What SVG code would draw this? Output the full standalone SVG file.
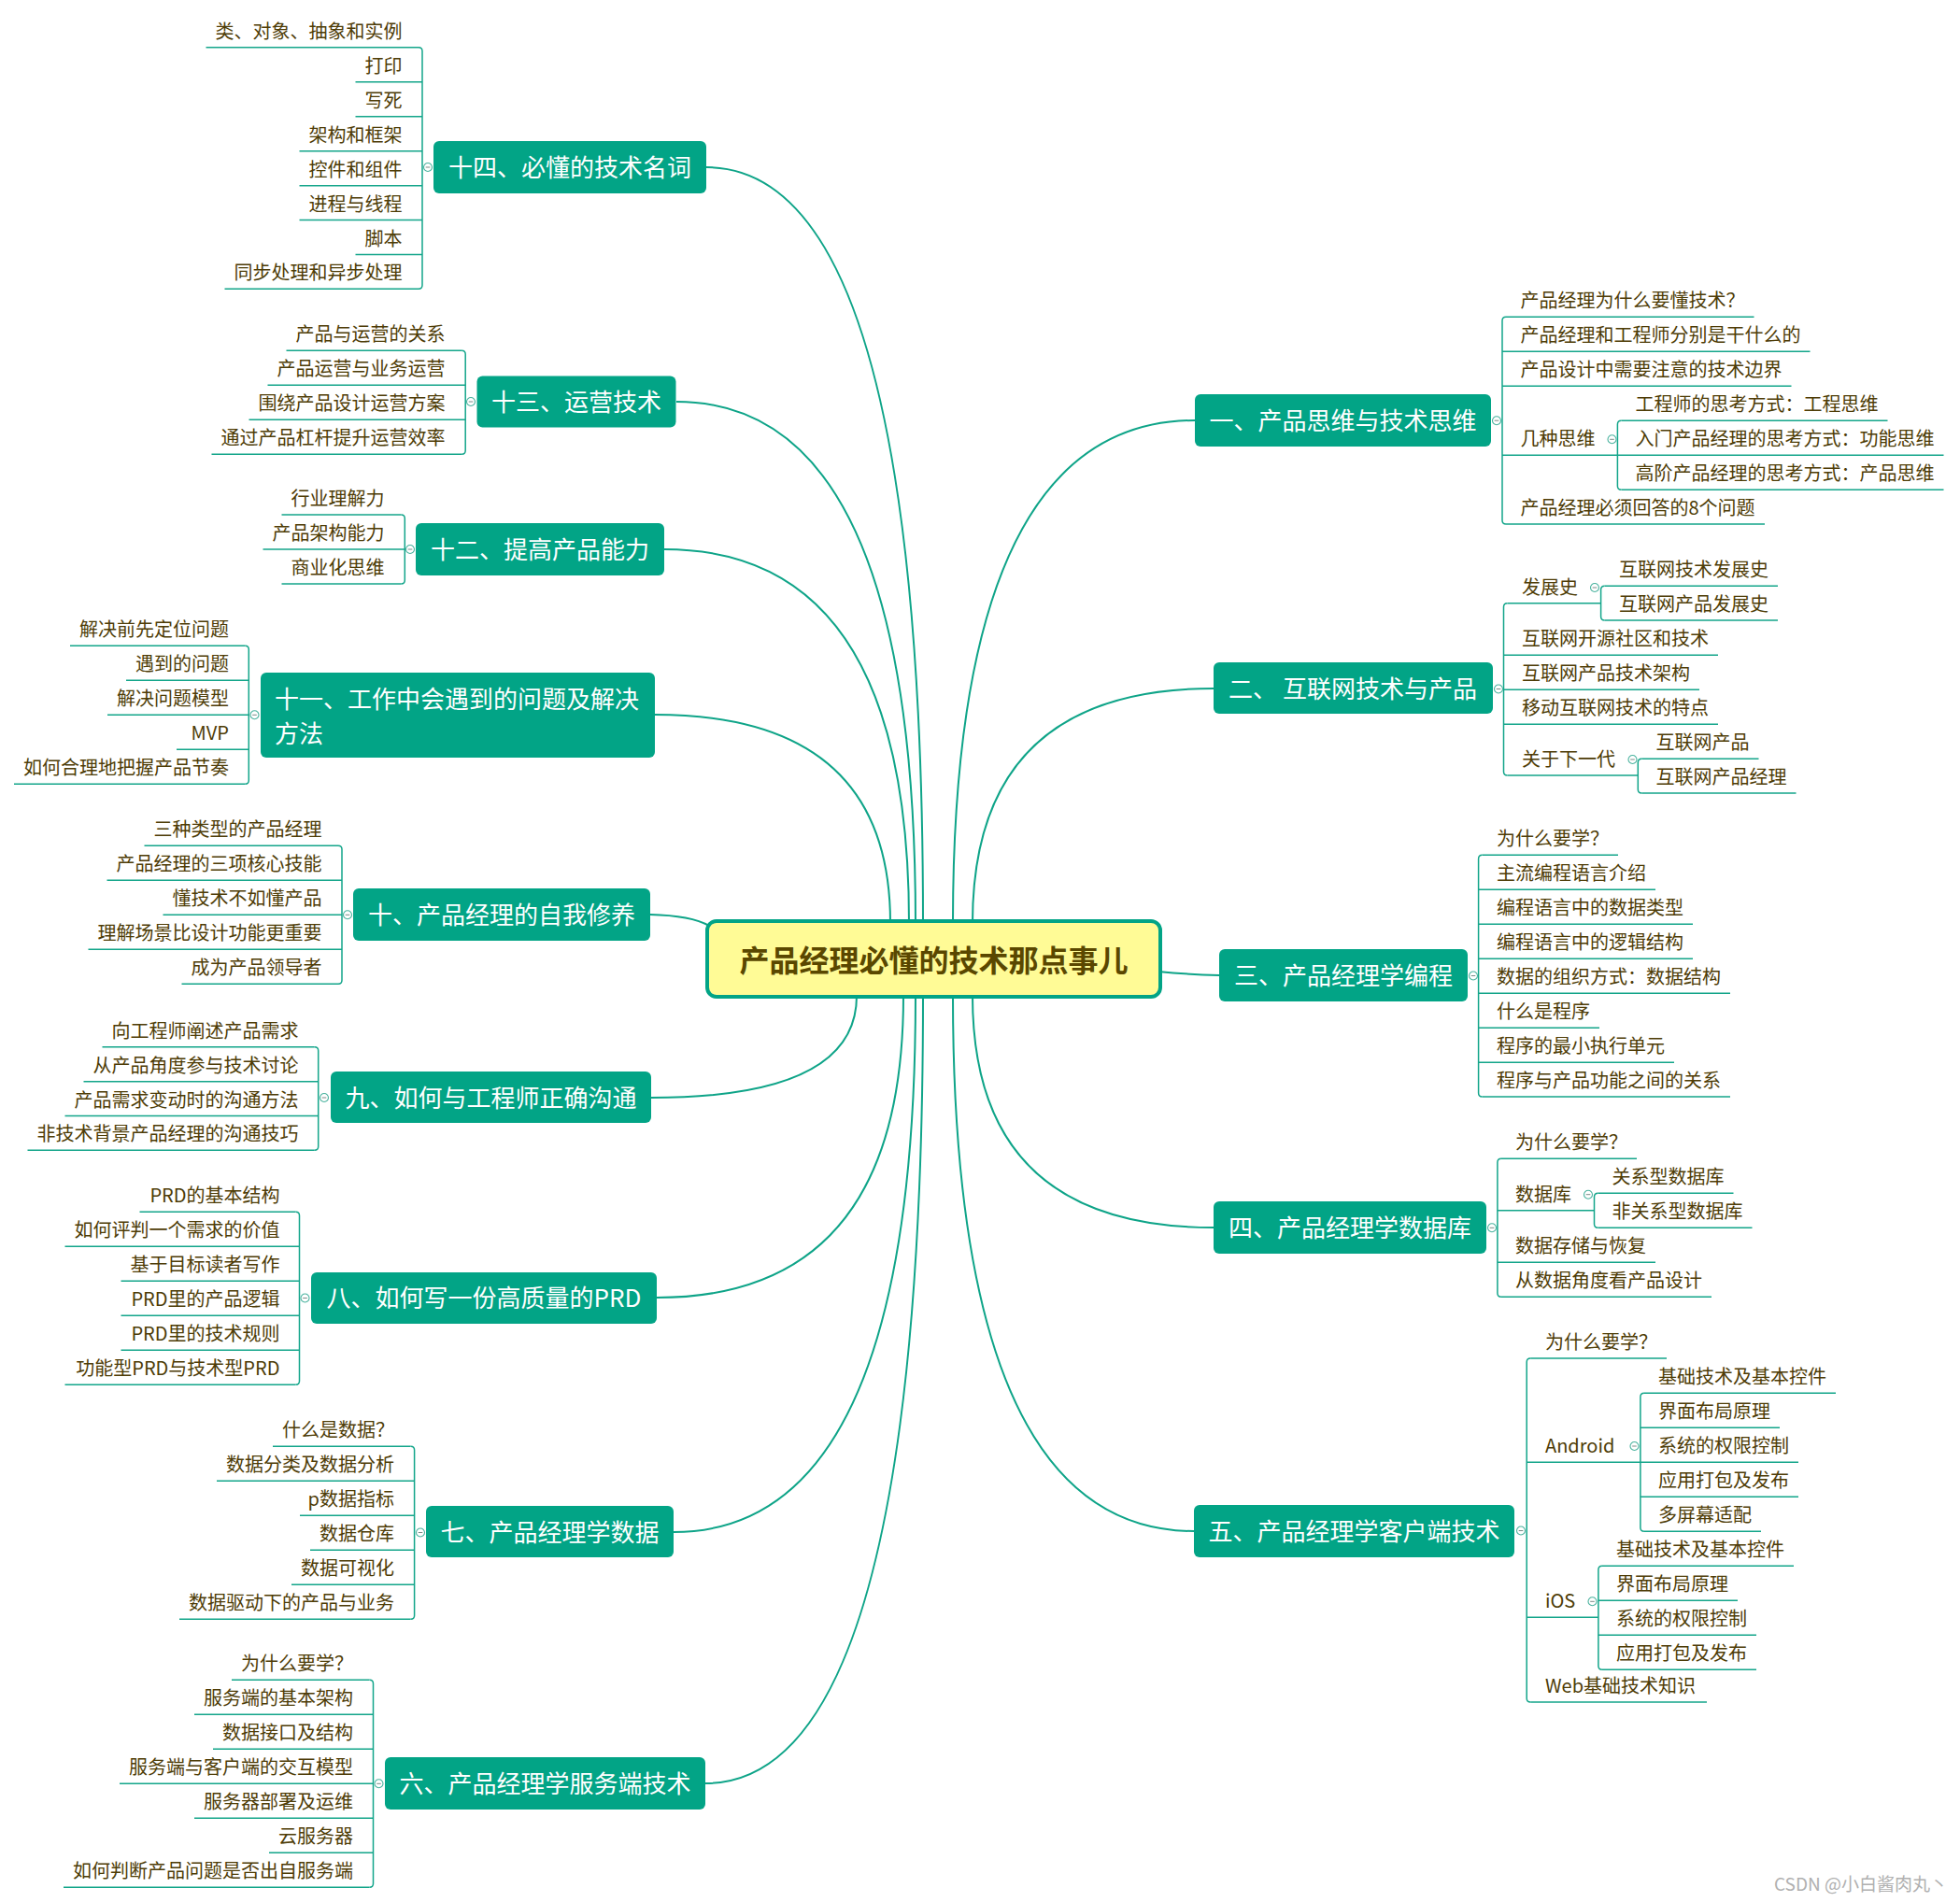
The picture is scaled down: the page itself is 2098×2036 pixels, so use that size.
<svg xmlns="http://www.w3.org/2000/svg" xmlns:xlink="http://www.w3.org/1999/xlink" width="2098" height="2036" viewBox="0 0 2098 2036">
<style>
text{font-family:'Noto Sans CJK SC','Noto Sans CJK JP',sans-serif}
.lf path{fill:none;stroke:#13a58a;stroke-width:1.5}
.lf text{font-size:20px;fill:#4e3c06}
.L text{text-anchor:end}
.tp rect{fill:#02a486}
.tp text{font-size:26px;fill:#ffffff;text-anchor:middle}
.br{fill:none;stroke:#13a58a;stroke-width:1.5}
.cn{fill:none;stroke:#0ea488;stroke-width:2}
.col circle{fill:#ffffff;stroke:#4bb39f;stroke-width:1.1}
.col path{stroke:#7a8a86;stroke-width:1}
</style>
<defs>
<g id="col" class="col"><circle r="4.5"/><path d="M-2.3 0h4.6"/></g>
</defs>
<rect width="2098" height="2036" fill="#ffffff"/>

<g id="connectors">
<path class="cn" d="M756 179Q988 179 988 988"/>
<path class="cn" d="M724 430Q980 430 980 988"/>
<path class="cn" d="M711 588Q973 588 973 988"/>
<path class="cn" d="M701 765Q953 765 953 988"/>
<path class="cn" d="M696 979Q740 980 759 991"/>
<path class="cn" d="M697 1175Q917 1175 917 1066"/>
<path class="cn" d="M703 1389Q967 1389 967 1066"/>
<path class="cn" d="M721 1640Q980 1640 980 1066"/>
<path class="cn" d="M755 1909Q988 1909 988 1066"/>
<path class="cn" d="M1279 450Q1020 450 1020 988"/>
<path class="cn" d="M1299 737Q1041 737 1041 988"/>
<path class="cn" d="M1305 1044Q1270 1043 1240 1040"/>
<path class="cn" d="M1299 1314Q1041 1314 1041 1066"/>
<path class="cn" d="M1278 1639Q1020 1639 1020 1066"/>
<path class="br" d="M448 50.7Q452 50.7 452 54.7V305.3Q452 309.3 448 309.3"/>
<path class="br" d="M494.2 375.3Q498.2 375.3 498.2 379.3V482.3Q498.2 486.3 494.2 486.3"/>
<path class="br" d="M429.3 551Q433.3 551 433.3 555V621Q433.3 625 429.3 625"/>
<path class="br" d="M262.3 691.3Q266.3 691.3 266.3 695.3V835.3Q266.3 839.3 262.3 839.3"/>
<path class="br" d="M362 905.3Q366 905.3 366 909.3V1049.3Q366 1053.3 362 1053.3"/>
<path class="br" d="M336.7 1120.7Q340.7 1120.7 340.7 1124.7V1227.3Q340.7 1231.3 336.7 1231.3"/>
<path class="br" d="M316.5 1297.3Q320.5 1297.3 320.5 1301.3V1478.3Q320.5 1482.3 316.5 1482.3"/>
<path class="br" d="M439.6 1548.3Q443.6 1548.3 443.6 1552.3V1729.3Q443.6 1733.3 439.6 1733.3"/>
<path class="br" d="M395.5 1798.3Q399.5 1798.3 399.5 1802.3V2016.3Q399.5 2020.3 395.5 2020.3"/>
<path class="br" d="M1612 339.3Q1608 339.3 1608 343.3V557Q1608 561 1612 561"/>
<path class="br" d="M1735.4 450.3Q1731.4 450.3 1731.4 454.3V520.3Q1731.4 524.3 1735.4 524.3"/>
<path class="br" d="M1613.5 645.7Q1609.5 645.7 1609.5 649.7V826Q1609.5 830 1613.5 830"/>
<path class="br" d="M1717.6 627.3Q1713.6 627.3 1713.6 631.3V660Q1713.6 664 1717.6 664"/>
<path class="br" d="M1757.3 812.3Q1753.3 812.3 1753.3 816.3V845Q1753.3 849 1757.3 849"/>
<path class="br" d="M1586.6 915.3Q1582.6 915.3 1582.6 919.3V1170Q1582.6 1174 1586.6 1174"/>
<path class="br" d="M1606.9 1240.3Q1602.9 1240.3 1602.9 1244.3V1384.3Q1602.9 1388.3 1606.9 1388.3"/>
<path class="br" d="M1710.5 1277.3Q1706.5 1277.3 1706.5 1281.3V1310.3Q1706.5 1314.3 1710.5 1314.3"/>
<path class="br" d="M1638.2 1454Q1634.2 1454 1634.2 1458V1818Q1634.2 1822 1638.2 1822"/>
<path class="br" d="M1759.9 1491.3Q1755.9 1491.3 1755.9 1495.3V1635.3Q1755.9 1639.3 1759.9 1639.3"/>
<path class="br" d="M1714.9 1676.3Q1710.9 1676.3 1710.9 1680.3V1783.3Q1710.9 1787.3 1714.9 1787.3"/>
</g>

<g id="center">
<rect x="757" y="986" width="485" height="81" rx="10" fill="#fffb96" stroke="#02a486" stroke-width="4"/>
<text x="999.5" y="1039.5" font-size="32" font-weight="bold" fill="#5a4700" text-anchor="middle">产品经理必懂的技术那点事儿</text>
</g>

<!-- Branch 14 -->
<g id="n14" class="tp"><rect x="464" y="151" width="292" height="56" rx="6"/><text x="610" y="189">十四、必懂的技术名词</text><use xlink:href="#col" x="458" y="179"/></g>
<g class="lf L">
<g id="n14-1"><path d="M220.5 50.7H448"/><text x="430.5" y="40.7">类、对象、抽象和实例</text></g>
<g id="n14-2"><path d="M380.5 87.7H452"/><text x="430.5" y="77.7">打印</text></g>
<g id="n14-3"><path d="M380.5 124.7H452"/><text x="430.5" y="114.7">写死</text></g>
<g id="n14-4"><path d="M320.5 161.7H452"/><text x="430.5" y="151.7">架构和框架</text></g>
<g id="n14-5"><path d="M320.5 198.7H452"/><text x="430.5" y="188.7">控件和组件</text></g>
<g id="n14-6"><path d="M320.5 235.5H452"/><text x="430.5" y="225.5">进程与线程</text></g>
<g id="n14-7"><path d="M380.5 272.5H452"/><text x="430.5" y="262.5">脚本</text></g>
<g id="n14-8"><path d="M240.5 309.3H448"/><text x="430.5" y="299.3">同步处理和异步处理</text></g>
</g>

<!-- Branch 13 -->
<g id="n13" class="tp"><rect x="510.5" y="402.5" width="213" height="55" rx="6"/><text x="617" y="440">十三、运营技术</text><use xlink:href="#col" x="504" y="430"/></g>
<g class="lf L">
<g id="n13-1"><path d="M306.5 375.3H494.2"/><text x="476.5" y="365.3">产品与运营的关系</text></g>
<g id="n13-2"><path d="M286.5 412.3H498.2"/><text x="476.5" y="402.3">产品运营与业务运营</text></g>
<g id="n13-3"><path d="M266.5 449.3H498.2"/><text x="476.5" y="439.3">围绕产品设计运营方案</text></g>
<g id="n13-4"><path d="M226.5 486.3H494.2"/><text x="476.5" y="476.3">通过产品杠杆提升运营效率</text></g>
</g>

<!-- Branch 12 -->
<g id="n12" class="tp"><rect x="445" y="560" width="266" height="56" rx="6"/><text x="578" y="598">十二、提高产品能力</text><use xlink:href="#col" x="439" y="588"/></g>
<g class="lf L">
<g id="n12-1"><path d="M301.5 551H429.3"/><text x="411.5" y="541">行业理解力</text></g>
<g id="n12-2"><path d="M281.5 588H433.3"/><text x="411.5" y="578">产品架构能力</text></g>
<g id="n12-3"><path d="M301.5 625H429.3"/><text x="411.5" y="615">商业化思维</text></g>
</g>

<!-- Branch 11 -->
<g id="n11" class="tp"><rect x="279" y="720" width="422" height="91" rx="6"/><text x="294" y="758" style="text-anchor:start">十一、工作中会遇到的问题及解决</text><text x="294" y="795" style="text-anchor:start">方法</text><use xlink:href="#col" x="272.5" y="765.3"/></g>
<g class="lf L">
<g id="n11-1"><path d="M75 691.3H262.3"/><text x="245" y="681.3">解决前先定位问题</text></g>
<g id="n11-2"><path d="M135 728.3H266.3"/><text x="245" y="718.3">遇到的问题</text></g>
<g id="n11-3"><path d="M115 765.3H266.3"/><text x="245" y="755.3">解决问题模型</text></g>
<g id="n11-4"><path d="M189 802.3H266.3"/><text x="245" y="792.3">MVP</text></g>
<g id="n11-5"><path d="M15 839.3H262.3"/><text x="245" y="829.3">如何合理地把握产品节奏</text></g>
</g>

<!-- Branch 10 -->
<g id="n10" class="tp"><rect x="378" y="951" width="318" height="56" rx="6"/><text x="537" y="989">十、产品经理的自我修养</text><use xlink:href="#col" x="372" y="979.3"/></g>
<g class="lf L">
<g id="n10-1"><path d="M154.5 905.3H362"/><text x="344.5" y="895.3">三种类型的产品经理</text></g>
<g id="n10-2"><path d="M114.5 942.3H366"/><text x="344.5" y="932.3">产品经理的三项核心技能</text></g>
<g id="n10-3"><path d="M174.5 979.3H366"/><text x="344.5" y="969.3">懂技术不如懂产品</text></g>
<g id="n10-4"><path d="M94.5 1016.3H366"/><text x="344.5" y="1006.3">理解场景比设计功能更重要</text></g>
<g id="n10-5"><path d="M194.5 1053.3H362"/><text x="344.5" y="1043.3">成为产品领导者</text></g>
</g>

<!-- Branch 9 -->
<g id="n9" class="tp"><rect x="354" y="1147" width="343" height="55" rx="6"/><text x="525.5" y="1185">九、如何与工程师正确沟通</text><use xlink:href="#col" x="347" y="1175"/></g>
<g class="lf L">
<g id="n9-1"><path d="M109.5 1120.7H336.7"/><text x="319.5" y="1110.7">向工程师阐述产品需求</text></g>
<g id="n9-2"><path d="M89.5 1157.7H340.7"/><text x="319.5" y="1147.7">从产品角度参与技术讨论</text></g>
<g id="n9-3"><path d="M69.5 1194.5H340.7"/><text x="319.5" y="1184.5">产品需求变动时的沟通方法</text></g>
<g id="n9-4"><path d="M29.5 1231.3H336.7"/><text x="319.5" y="1221.3">非技术背景产品经理的沟通技巧</text></g>
</g>

<!-- Branch 8 -->
<g id="n8" class="tp"><rect x="333" y="1362" width="370" height="55" rx="6"/><text x="518" y="1399">八、如何写一份高质量的PRD</text><use xlink:href="#col" x="326.5" y="1389.5"/></g>
<g class="lf L">
<g id="n8-1"><path d="M149.5 1297.3H316.5"/><text x="299.5" y="1287.3">PRD的基本结构</text></g>
<g id="n8-2"><path d="M69.5 1334.3H320.5"/><text x="299.5" y="1324.3">如何评判一个需求的价值</text></g>
<g id="n8-3"><path d="M129.5 1371.3H320.5"/><text x="299.5" y="1361.3">基于目标读者写作</text></g>
<g id="n8-4"><path d="M129.5 1408.3H320.5"/><text x="299.5" y="1398.3">PRD里的产品逻辑</text></g>
<g id="n8-5"><path d="M129.5 1445.3H320.5"/><text x="299.5" y="1435.3">PRD里的技术规则</text></g>
<g id="n8-6"><path d="M69.5 1482.3H316.5"/><text x="299.5" y="1472.3">功能型PRD与技术型PRD</text></g>
</g>

<!-- Branch 7 -->
<g id="n7" class="tp"><rect x="456" y="1612" width="265" height="55" rx="6"/><text x="588.5" y="1650">七、产品经理学数据</text><use xlink:href="#col" x="450" y="1640.5"/></g>
<g class="lf L">
<g id="n7-1"><path d="M292 1548.3H439.6"/><text x="422" y="1538.3">什么是数据？</text></g>
<g id="n7-2"><path d="M232 1585.3H443.6"/><text x="422" y="1575.3">数据分类及数据分析</text></g>
<g id="n7-3"><path d="M321 1622.3H443.6"/><text x="422" y="1612.3">p数据指标</text></g>
<g id="n7-4"><path d="M332 1659.3H443.6"/><text x="422" y="1649.3">数据仓库</text></g>
<g id="n7-5"><path d="M312 1696.3H443.6"/><text x="422" y="1686.3">数据可视化</text></g>
<g id="n7-6"><path d="M192 1733.3H439.6"/><text x="422" y="1723.3">数据驱动下的产品与业务</text></g>
</g>

<!-- Branch 6 -->
<g id="n6" class="tp"><rect x="412" y="1881" width="343" height="56" rx="6"/><text x="583.5" y="1919">六、产品经理学服务端技术</text><use xlink:href="#col" x="405.5" y="1909.3"/></g>
<g class="lf L">
<g id="n6-1"><path d="M248 1798.3H395.5"/><text x="378" y="1788.3">为什么要学？</text></g>
<g id="n6-2"><path d="M208 1835.3H399.5"/><text x="378" y="1825.3">服务端的基本架构</text></g>
<g id="n6-3"><path d="M228 1872.3H399.5"/><text x="378" y="1862.3">数据接口及结构</text></g>
<g id="n6-4"><path d="M128 1909.3H399.5"/><text x="378" y="1899.3">服务端与客户端的交互模型</text></g>
<g id="n6-5"><path d="M208 1946.3H399.5"/><text x="378" y="1936.3">服务器部署及运维</text></g>
<g id="n6-6"><path d="M288 1983.3H399.5"/><text x="378" y="1973.3">云服务器</text></g>
<g id="n6-7"><path d="M68 2020.3H395.5"/><text x="378" y="2010.3">如何判断产品问题是否出自服务端</text></g>
</g>

<!-- Branch 1 -->
<g id="n1" class="tp"><rect x="1279" y="422" width="317" height="56" rx="6"/><text x="1437.5" y="460">一、产品思维与技术思维</text><use xlink:href="#col" x="1602" y="450.2"/></g>
<g class="lf">
<g id="n1-1"><path d="M1612 339.3H1877.5"/><text x="1627.5" y="329.3">产品经理为什么要懂技术？</text></g>
<g id="n1-2"><path d="M1608 376.3H1937.5"/><text x="1627.5" y="366.3">产品经理和工程师分别是干什么的</text></g>
<g id="n1-3"><path d="M1608 413.3H1917.5"/><text x="1627.5" y="403.3">产品设计中需要注意的技术边界</text></g>
<g id="n1-4"><path d="M1608 487.3H1731.4"/><text x="1627.5" y="477.3">几种思维</text><use xlink:href="#col" x="1725.5" y="470.3"/></g>
<g id="n1-4-1"><path d="M1735.4 450.3H2020.5"/><text x="1750.5" y="440.3">工程师的思考方式：工程思维</text></g>
<g id="n1-4-2"><path d="M1731.4 487.3H2080.5"/><text x="1750.5" y="477.3">入门产品经理的思考方式：功能思维</text></g>
<g id="n1-4-3"><path d="M1735.4 524.3H2080.5"/><text x="1750.5" y="514.3">高阶产品经理的思考方式：产品思维</text></g>
<g id="n1-5"><path d="M1612 561H1889"/><text x="1627.5" y="551">产品经理必须回答的8个问题</text></g>
</g>

<!-- Branch 2 -->
<g id="n2" class="tp"><rect x="1299" y="709" width="299" height="55" rx="6"/><text x="1448" y="747">二、 互联网技术与产品</text><use xlink:href="#col" x="1604" y="737.5"/></g>
<g class="lf">
<g id="n2-1"><path d="M1613.5 645.7H1713.6"/><text x="1629" y="635.7">发展史</text><use xlink:href="#col" x="1707" y="629"/></g>
<g id="n2-1-1"><path d="M1717.6 627.3H1903"/><text x="1733" y="617.3">互联网技术发展史</text></g>
<g id="n2-1-2"><path d="M1717.6 664H1903"/><text x="1733" y="654">互联网产品发展史</text></g>
<g id="n2-2"><path d="M1609.5 701.3H1839"/><text x="1629" y="691.3">互联网开源社区和技术</text></g>
<g id="n2-3"><path d="M1609.5 738.3H1819"/><text x="1629" y="728.3">互联网产品技术架构</text></g>
<g id="n2-4"><path d="M1609.5 775.3H1839"/><text x="1629" y="765.3">移动互联网技术的特点</text></g>
<g id="n2-5"><path d="M1613.5 830H1753.3"/><text x="1629" y="820">关于下一代</text><use xlink:href="#col" x="1747.5" y="813"/></g>
<g id="n2-5-1"><path d="M1757.3 812.3H1882.5"/><text x="1772.5" y="802.3">互联网产品</text></g>
<g id="n2-5-2"><path d="M1757.3 849H1922.5"/><text x="1772.5" y="839">互联网产品经理</text></g>
</g>

<!-- Branch 3 -->
<g id="n3" class="tp"><rect x="1305" y="1016" width="266" height="56" rx="6"/><text x="1438" y="1054">三、产品经理学编程</text><use xlink:href="#col" x="1577" y="1044.5"/></g>
<g class="lf">
<g id="n3-1"><path d="M1586.6 915.3H1732"/><text x="1602" y="905.3">为什么要学？</text></g>
<g id="n3-2"><path d="M1582.6 952.3H1772"/><text x="1602" y="942.3">主流编程语言介绍</text></g>
<g id="n3-3"><path d="M1582.6 989.3H1812"/><text x="1602" y="979.3">编程语言中的数据类型</text></g>
<g id="n3-4"><path d="M1582.6 1026.3H1812"/><text x="1602" y="1016.3">编程语言中的逻辑结构</text></g>
<g id="n3-5"><path d="M1582.6 1063.3H1852"/><text x="1602" y="1053.3">数据的组织方式：数据结构</text></g>
<g id="n3-6"><path d="M1582.6 1100.3H1712"/><text x="1602" y="1090.3">什么是程序</text></g>
<g id="n3-7"><path d="M1582.6 1137.3H1792"/><text x="1602" y="1127.3">程序的最小执行单元</text></g>
<g id="n3-8"><path d="M1586.6 1174H1852"/><text x="1602" y="1164">程序与产品功能之间的关系</text></g>
</g>

<!-- Branch 4 -->
<g id="n4" class="tp"><rect x="1299" y="1286" width="292" height="56" rx="6"/><text x="1445" y="1324">四、产品经理学数据库</text><use xlink:href="#col" x="1597" y="1314.3"/></g>
<g class="lf">
<g id="n4-1"><path d="M1606.9 1240.3H1752"/><text x="1622" y="1230.3">为什么要学？</text></g>
<g id="n4-2"><path d="M1602.9 1295.7H1706.5"/><text x="1622" y="1285.7">数据库</text><use xlink:href="#col" x="1700" y="1278.7"/></g>
<g id="n4-2-1"><path d="M1710.5 1277.3H1855.5"/><text x="1725.5" y="1267.3">关系型数据库</text></g>
<g id="n4-2-2"><path d="M1710.5 1314.3H1875.5"/><text x="1725.5" y="1304.3">非关系型数据库</text></g>
<g id="n4-3"><path d="M1602.9 1351.3H1772"/><text x="1622" y="1341.3">数据存储与恢复</text></g>
<g id="n4-4"><path d="M1606.9 1388.3H1832"/><text x="1622" y="1378.3">从数据角度看产品设计</text></g>
</g>

<!-- Branch 5 -->
<g id="n5" class="tp"><rect x="1278" y="1611" width="343" height="56" rx="6"/><text x="1449.5" y="1649">五、产品经理学客户端技术</text><use xlink:href="#col" x="1628" y="1638.5"/></g>
<g class="lf">
<g id="n5-1"><path d="M1638.2 1454H1784"/><text x="1654" y="1444">为什么要学？</text></g>
<g id="n5-2"><path d="M1634.2 1565.3H1755.9"/><text x="1654" y="1555.3">Android</text><use xlink:href="#col" x="1749.5" y="1548"/></g>
<g id="n5-2-1"><path d="M1759.9 1491.3H1965"/><text x="1775" y="1481.3">基础技术及基本控件</text></g>
<g id="n5-2-2"><path d="M1755.9 1528.3H1905"/><text x="1775" y="1518.3">界面布局原理</text></g>
<g id="n5-2-3"><path d="M1755.9 1565.3H1925"/><text x="1775" y="1555.3">系统的权限控制</text></g>
<g id="n5-2-4"><path d="M1755.9 1602.3H1925"/><text x="1775" y="1592.3">应用打包及发布</text></g>
<g id="n5-2-5"><path d="M1759.9 1639.3H1885"/><text x="1775" y="1629.3">多屏幕适配</text></g>
<g id="n5-3"><path d="M1634.2 1731.3H1710.9"/><text x="1654" y="1721.3">iOS</text><use xlink:href="#col" x="1704.5" y="1714.3"/></g>
<g id="n5-3-1"><path d="M1714.9 1676.3H1920"/><text x="1730" y="1666.3">基础技术及基本控件</text></g>
<g id="n5-3-2"><path d="M1710.9 1713.3H1860"/><text x="1730" y="1703.3">界面布局原理</text></g>
<g id="n5-3-3"><path d="M1710.9 1750.3H1880"/><text x="1730" y="1740.3">系统的权限控制</text></g>
<g id="n5-3-4"><path d="M1714.9 1787.3H1880"/><text x="1730" y="1777.3">应用打包及发布</text></g>
<g id="n5-4"><path d="M1638.2 1822H1827"/><text x="1654" y="1812">Web基础技术知识</text></g>
</g>

<text x="2085" y="2024" font-size="19" fill="#b0b0b0" text-anchor="end">CSDN @小白酱肉丸丶</text>
</svg>
